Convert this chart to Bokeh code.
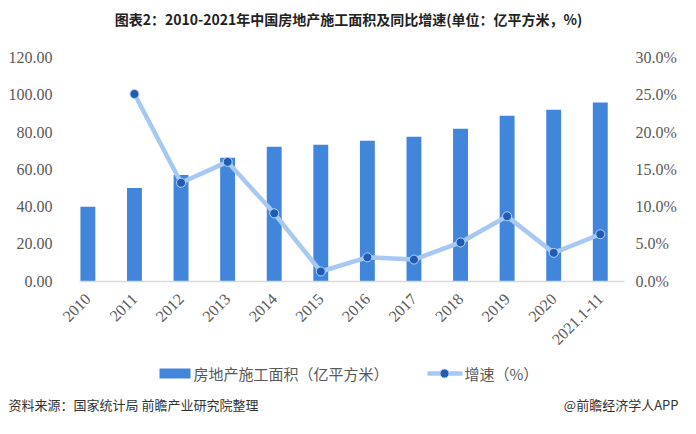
import numpy as np
from bokeh.plotting import figure
from bokeh.models import Range1d, LinearAxis, FixedTicker, PrintfTickFormatter
from bokeh.core.properties import value
from bokeh.embed import file_html
from bokeh.resources import INLINE
from math import pi

categories = ["2010", "2011", "2012", "2013", "2014", "2015", "2016",
              "2017", "2018", "2019", "2020", "2021.1-11"]
area = [40.0, 50.0, 57.0, 66.2, 72.1, 73.2, 75.3, 77.5, 81.8, 88.8, 92.0, 95.8]
growth = [np.nan, 25.1, 13.2, 16.0, 9.1, 1.3, 3.2, 2.9, 5.2, 8.7, 3.8, 6.3]
left_ticks = [0, 20, 40, 60, 80, 100, 120]
right_ticks = [0, 5, 10, 15, 20, 25, 30]

title_text = "图表2：2010-2021年中国房地产施工面积及同比增速(单位：亿平方米，%)"
source_text = "资料来源：国家统计局 前瞻产业研究院整理"
brand_text = "@前瞻经济学人APP"
bar_name = "房地产施工面积（亿平方米）"
line_name = "增速（%）"

xs = list(range(len(categories)))
gx = [x for x, g in zip(xs, growth) if not np.isnan(g)]
gy = [g for g in growth if not np.isnan(g)]

CJK = "Noto Sans CJK SC"
SERIF = "Liberation Serif"
GRAY = "#595959"
BAR = "#4286DC"
LINE = "#A6C8F2"
DOT = "#1F5CB5"
DOT_EDGE = "#B8D4F5"

# canvas and plot-area geometry (pixels)
W, H = 680, 418
PX_L, PX_R = 79.0, 624.0
PY_T, PY_B = 57.0, 280.7
X0, X1 = -0.18, 11.52
Y_MAX, P_MAX = 120.0, 30.0

sx = (PX_R - PX_L) / (X1 - X0)
sy = (PY_B - PY_T) / Y_MAX
sp = (PY_B - PY_T) / P_MAX

p = figure(width=W, height=H, output_backend="svg", toolbar_location=None,
           x_range=Range1d(X0 - PX_L / sx, X1 + (W - PX_R) / sx),
           y_range=Range1d(-(H - PY_B) / sy, Y_MAX + PY_T / sy),
           x_axis_type=None, y_axis_type=None, min_border=0)
p.outline_line_color = None
p.extra_y_ranges = {"pct": Range1d(-(H - PY_B) / sp, P_MAX + PY_T / sp),
                    "py": Range1d(H, 0)}
p.extra_x_ranges = {"px": Range1d(0, W)}

# data marks
p.vbar(x=xs, top=area, width=0.32, color=BAR, line_color=None)
p.line(gx, gy, y_range_name="pct", line_color=LINE, line_width=4.5)
p.scatter(gx, gy, y_range_name="pct", size=9, fill_color=DOT,
          line_color=DOT_EDGE, line_width=1)


def style(ax, standoff):
    ax.major_tick_line_color = None
    ax.minor_tick_line_color = None
    ax.major_tick_out = 0
    ax.major_tick_in = 0
    ax.major_label_text_font = SERIF
    ax.major_label_text_font_size = "16px"
    ax.major_label_text_color = GRAY
    ax.major_label_standoff = standoff


xa = LinearAxis(fixed_location=0, ticker=FixedTicker(ticks=xs),
                bounds=(X0, X1))
xa.major_label_overrides = {i: c for i, c in enumerate(categories)}
xa.major_label_orientation = pi / 4
xa.axis_line_color = "#D9D9D9"
xa.axis_line_width = 1.5
style(xa, 15)
p.add_layout(xa, "below")

ya = LinearAxis(fixed_location=X0, ticker=FixedTicker(ticks=left_ticks),
                formatter=PrintfTickFormatter(format="%.2f"), bounds=(0, Y_MAX))
ya.axis_line_color = None
style(ya, 27)
p.add_layout(ya, "left")

ra = LinearAxis(fixed_location=X1, y_range_name="pct",
                ticker=FixedTicker(ticks=right_ticks),
                formatter=PrintfTickFormatter(format="%.1f%%"), bounds=(0, P_MAX))
ra.axis_line_color = None
style(ra, 11)
p.add_layout(ra, "right")

# texts and legend (pixel ranges)
kw = dict(x_range_name="px", y_range_name="py")
p.text(x=[348], y=[18], text=[title_text], text_font=value(CJK),
       text_font_size="14px", text_font_style="bold", text_color="#222222",
       text_align="center", text_baseline="middle", **kw)

p.rect(x=[174.5], y=[373], width=[31], height=[10], fill_color=BAR,
       line_color=None, **kw)
p.text(x=[193], y=[373], text=[bar_name], text_font=value(CJK),
       text_font_size="15px", text_color=GRAY, text_align="left",
       text_baseline="middle", **kw)
p.line(x=[427, 462], y=[373, 373], line_color=LINE, line_width=4.5, **kw)
p.scatter(x=[444], y=[373], size=9, fill_color=DOT, line_color=DOT_EDGE,
          line_width=1, **kw)
p.text(x=[464], y=[373], text=[line_name], text_font=value(CJK),
       text_font_size="15px", text_color=GRAY, text_align="left",
       text_baseline="middle", **kw)

p.text(x=[8], y=[404], text=[source_text], text_font=value(CJK),
       text_font_size="13px", text_color="#333333",
       text_align="left", text_baseline="middle", **kw)
p.text(x=[678], y=[404], text=[brand_text], text_font=value(CJK),
       text_font_size="13px", text_color="#333333",
       text_align="right", text_baseline="middle", **kw)

open("out.html", "w").write(file_html(p, INLINE))
